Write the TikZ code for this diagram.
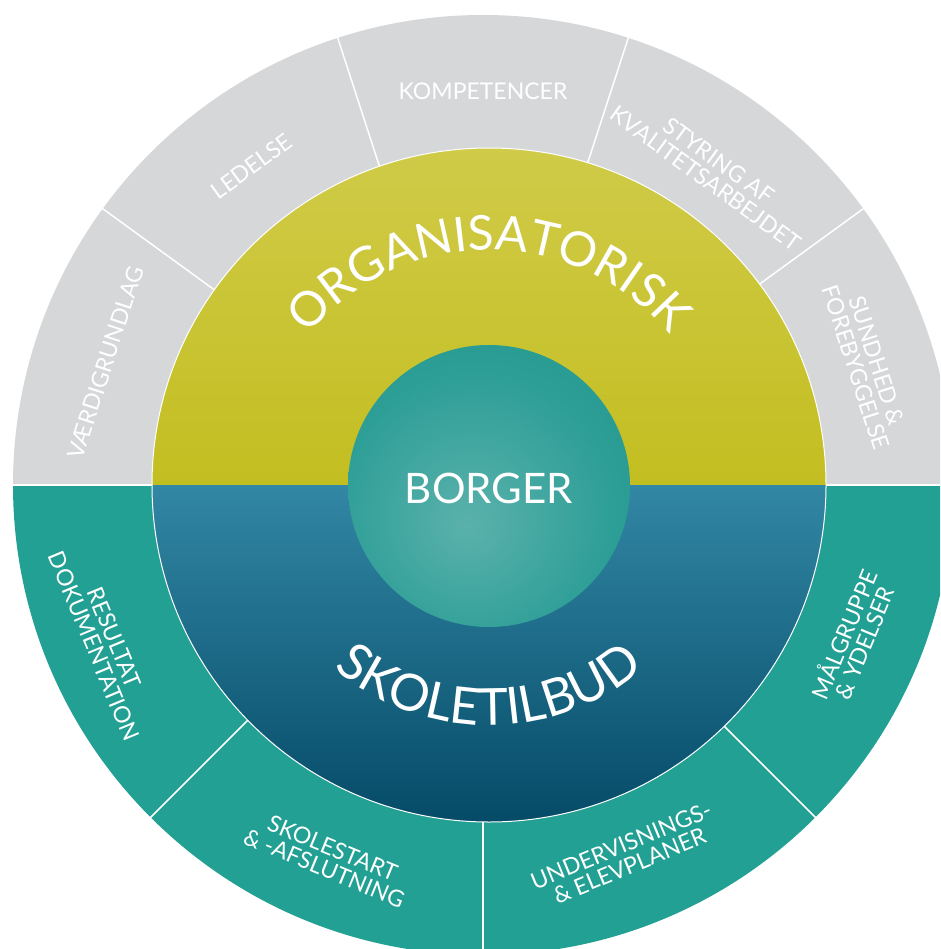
\documentclass[tikz,border=0pt]{standalone}
\usepackage{fontspec}
\setmainfont{Lato}
\usetikzlibrary{calc,decorations.text}
\definecolor{ringgray}{HTML}{D6D7D9}
\definecolor{ringteal}{HTML}{21A093}
\definecolor{orgtop}{HTML}{D0CB48}
\definecolor{orgbot}{HTML}{C3BE20}
\definecolor{skotop}{HTML}{3287A4}
\definecolor{skobot}{HTML}{054B68}
\definecolor{bcen}{HTML}{5BB1AC}
\definecolor{bmid}{HTML}{2E9F97}
\definecolor{bedge}{HTML}{138C83}
\pgfdeclareradialshading{borgershade}{\pgfpoint{-4bp}{-7bp}}{color(0bp)=(bcen); color(24bp)=(bmid); color(54bp)=(bedge); color(70bp)=(bedge)}
\begin{document}
\begin{tikzpicture}[x=1pt,y=1pt,
  seg/.style={font=\fontsize{23}{22}\selectfont, text=white, align=center, inner sep=0pt},
  sepline/.style={white, line width=1.5pt}]
\useasboundingbox (0,0) rectangle (940,-949);
\clip (0,0) rectangle (940,-949);
\fill[white] (0,0) rectangle (940,-949);
\coordinate (O) at (483,-485);
\coordinate (C) at (489,-485);
% outer ring
\fill[ringgray] ($(O)+(470,0)$) arc[start angle=0,end angle=180,radius=470] -- cycle;
\fill[ringteal] ($(O)+(-470,0)$) arc[start angle=180,end angle=360,radius=470] -- cycle;
\foreach \a in {36,72,108,144,225,270,315} \draw[sepline] ($(O)+(\a:300)$) -- ($(O)+(\a:480)$);
\draw[sepline] ($(O)+(-480,0)$) -- ($(O)+(480,0)$);
% middle ring
\shade[top color=orgtop, bottom color=orgbot] ($(C)+(337,0)$) arc[start angle=0,end angle=180,radius=337] -- cycle;
\shade[top color=skotop, bottom color=skobot] ($(C)+(-337,0)$) arc[start angle=180,end angle=360,radius=337] -- cycle;
\draw[white, line width=1pt] (C) circle[radius=337];
% inner circle
\shade[shading=borgershade] (489,-486) circle[radius=141];
\node[font=\fontsize{42}{42}\selectfont, text=white, inner sep=0pt] (borger) at (489,-488.5) {BORGER};
% curved titles
\path[decorate, decoration={text along path, text align=center, text color=white,
  text={|\fontsize{48}{48}\selectfont|ORGANISATORISK}}]
  ($(C)+(170:235)$) arc[start angle=170, end angle=10, radius=235];
\path[decorate, decoration={text along path, text align=center, text color=white,
  text={|\fontsize{51}{51}\selectfont|SKOLETILBUD}}]
  ($(C)+(190:240)$) arc[start angle=190, end angle=350, radius=240];
% segment labels
\node[seg, rotate=72] (vaerdi) at ($(O)+(162:397)$) {VÆRDIGRUNDLAG};
\node[seg, rotate=36] (ledelse) at ($(O)+(126:394)$) {LEDELSE};
\node[seg] (komp) at ($(O)+(90:394)$) {KOMPETENCER};
\node[seg, rotate=-36] (styring) at ($(O)+(54:390)$) {STYRING AF\\KVALITETSARBEJDET};
\node[seg, rotate=-72] (sundhed) at ($(O)+(17.5:402)$) {SUNDHED \&\\FOREBYGGELSE};
\node[seg, rotate=-67.5] (resultat) at ($(O)+(202.5:410)$) {RESULTAT\\DOKUMENTATION};
\node[seg, rotate=-22.5] (skolestart) at ($(O)+(247.5:404)$) {SKOLESTART\\\& -AFSLUTNING};
\node[seg, rotate=22.5] (underv) at ($(O)+(291:397)$) {UNDERVISNINGS-\\\& ELEVPLANER};
\node[seg, rotate=67.5] (maal) at ($(O)+(337.5:400)$) {MÅLGRUPPE\\\& YDELSER};
\end{tikzpicture}
\end{document}
